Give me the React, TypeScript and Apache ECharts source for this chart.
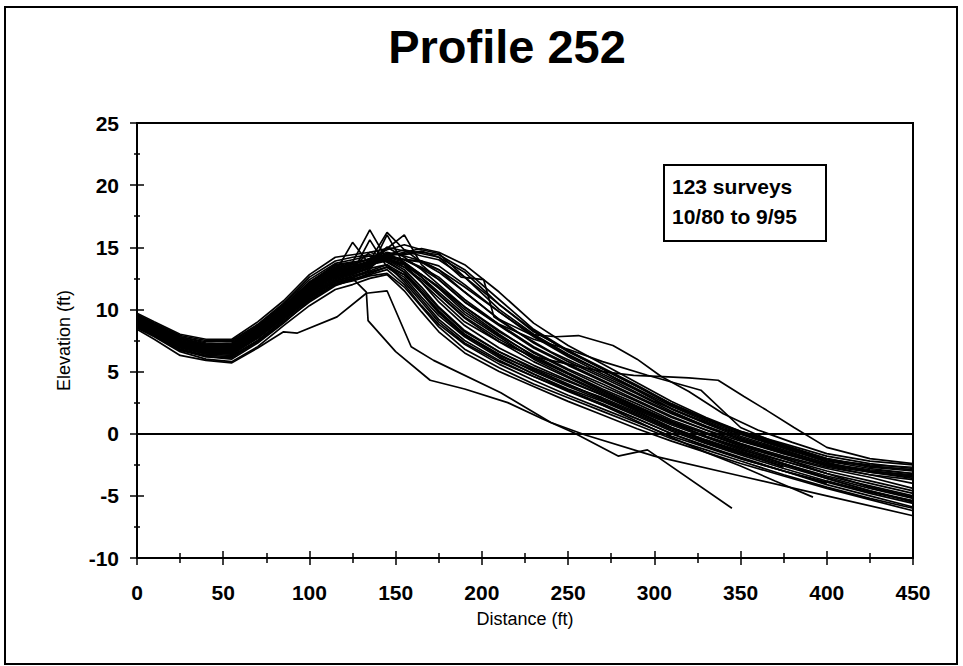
import React, { useEffect, useRef } from "react";
import * as echarts from "echarts";

// Shared distance stations (ft)
const distances = [0, 10, 25, 40, 55, 70, 85, 100, 115, 125, 135, 145, 155, 165, 175, 190, 210, 230, 250, 270, 290, 310, 330, 350, 375, 400, 425, 450];

// Elevation profiles (ft) on shared stations
const profiles: (number | null)[][] = [
  [9.2, 8.5, 7.5, 7.0, 7.0, 8.3, 9.9, 11.8, 13.0, 13.2, 13.5, 14.2, 13.8, 12.6, 11.4, 9.6, 7.8, 6.0, 4.6, 3.3, 2.1, 0.9, 0.0, -0.9, -1.9, -2.8, -3.5, -4.4],
  [8.8, 8.1, 7.0, 6.5, 6.6, 7.9, 9.5, 11.2, 12.5, 12.9, 13.4, 15.0, 14.2, 13.2, 12.0, 10.2, 8.3, 6.5, 5.1, 3.8, 2.6, 1.3, 0.3, -0.6, -1.6, -2.5, -3.0, -3.4],
  [9.5, 8.8, 7.8, 7.3, 7.2, 8.6, 10.2, 12.2, 13.6, 13.8, 14.0, 14.5, 14.4, 14.6, 14.4, 13.2, 10.8, 8.4, 6.7, 5.2, 3.8, 2.3, 1.1, 0.1, -1.0, -2.2, -2.6, -2.9],
  [8.6, 7.9, 6.7, 6.2, 6.1, 7.4, 9.0, 10.6, 11.9, 12.4, 12.8, 13.2, 12.0, 10.3, 8.8, 7.2, 5.6, 4.3, 3.1, 2.0, 0.9, -0.2, -1.1, -2.0, -3.0, -3.9, -4.8, -5.6],
  [9.0, 8.4, 7.3, 6.9, 6.8, 8.0, 9.6, 11.4, 12.8, 13.0, 13.9, 16.2, 14.8, 13.8, 13.0, 11.4, 9.2, 7.3, 5.8, 4.5, 3.2, 1.8, 0.6, -0.4, -1.5, -2.6, -3.3, -4.0],
  [9.3, 8.6, 7.6, 7.1, 7.1, 8.4, 10.1, 12.0, 13.3, 13.6, 14.1, 14.8, 15.2, 14.8, 14.5, 12.6, 10.0, 8.0, 6.4, 5.0, 3.5, 2.0, 0.9, -0.2, -1.3, -2.4, -2.9, -3.2],
  [8.9, 8.2, 7.1, 6.6, 6.4, 7.7, 9.3, 11.0, 12.3, 12.6, 13.0, 13.4, 12.6, 11.0, 9.5, 7.8, 6.1, 4.8, 3.6, 2.6, 1.4, 0.2, -0.8, -1.7, -2.8, -3.8, -4.7, -5.4],
  [9.6, 8.9, 7.9, 7.5, 7.5, 8.8, 10.5, 12.6, 13.9, 14.2, 14.4, 14.0, 13.6, 12.6, 11.2, 9.4, 7.6, 6.1, 4.8, 3.5, 2.2, 1.0, 0.0, -1.0, -2.0, -3.0, -3.8, -4.6],
  [8.7, 8.0, 6.9, 6.4, 6.3, 7.5, 9.2, 10.9, 12.1, 12.5, 13.2, 16.0, 13.6, 12.2, 10.6, 8.7, 6.9, 5.5, 4.3, 3.1, 1.8, 0.5, -0.5, -1.4, -2.4, -3.4, -4.2, -5.0],
  [9.1, 8.4, 7.4, 6.9, 6.9, 8.2, 9.8, 11.6, 12.9, 13.4, 14.6, 14.2, 14.0, 13.8, 13.2, 11.8, 9.8, 7.8, 6.2, 4.8, 3.5, 2.0, 0.8, -0.3, -1.4, -2.4, -3.0, -3.3],
  [9.4, 8.7, 7.7, 7.2, 7.3, 8.6, 10.3, 12.2, 13.5, 13.8, 16.4, 14.0, 13.2, 11.8, 10.2, 8.3, 6.6, 5.2, 4.0, 2.8, 1.6, 0.4, -0.6, -1.5, -2.5, -3.5, -4.4, -5.2],
  [8.5, 7.8, 6.6, 6.0, 5.8, 7.0, 8.7, 10.3, 11.6, 12.0, 12.5, 12.8, 11.5, 9.8, 8.2, 6.5, 5.0, 3.8, 2.6, 1.5, 0.4, -0.6, -1.5, -2.4, -3.4, -4.4, -5.3, -6.2],
  [9.0, 8.3, 7.2, 6.8, 6.7, 8.0, 9.7, 11.5, 12.7, 13.1, 13.6, 14.3, 14.6, 14.9, 14.6, 13.6, 11.4, 8.9, 7.1, 5.6, 4.1, 2.6, 1.3, 0.2, -0.9, -2.0, -2.7, -3.0],
  [9.2, 8.5, 7.5, 7.0, 6.9, 8.2, 9.9, 11.7, 13.0, 15.4, 13.6, 13.9, 13.0, 11.6, 10.1, 8.2, 6.6, 5.3, 4.2, 3.1, 1.9, 0.7, -0.3, -1.3, -2.2, -3.2, null, null],
  [8.8, 8.1, 7.0, 6.5, 6.5, 7.8, 9.4, 11.1, 12.4, 12.8, 13.3, 14.5, 13.8, 12.8, 11.8, 10.2, 8.2, 6.6, 5.2, 4.0, 2.7, 1.4, 0.3, -0.8, -2.0, -3.2, -4.3, -5.1],
  [9.5, 8.8, 7.8, 7.4, 7.4, 8.7, 10.4, 12.4, 13.7, 14.0, 14.3, 13.8, 13.0, 11.4, 9.8, 8.0, 6.4, 5.0, 3.8, 2.7, 1.5, 0.3, -0.7, -1.6, -2.6, -3.6, -4.6, -5.4],
  [8.9, 8.2, 7.1, 6.7, 6.6, 7.9, 9.5, 11.3, 12.6, 13.0, 15.6, 13.4, 12.8, 11.3, 9.7, 7.9, 6.3, 5.1, 3.9, 2.9, 1.7, 0.5, -0.5, -1.5, -2.7, null, null, null],
  [9.3, 8.6, 7.6, 7.1, 7.0, 8.4, 10.0, 11.9, 13.2, 13.5, 13.9, 14.4, 14.8, 14.5, 14.2, 13.0, 10.4, 8.2, 6.7, 5.3, 3.9, 2.4, 1.2, 0.1, -1.0, -2.1, -2.5, -2.7],
  [8.6, 7.9, 6.8, 6.3, 6.2, 7.5, 9.1, 10.8, 12.0, 12.4, 12.9, 13.4, 12.4, 10.8, 9.2, 7.5, 5.9, 4.6, 3.4, 2.3, 1.2, 0.0, -1.0, -2.0, -3.0, -4.1, -5.0, -5.9],
  [9.1, 8.4, 7.3, 6.8, 6.8, 8.1, 9.7, 11.5, 12.8, 13.2, 13.7, 14.1, 13.7, 12.8, 11.7, 9.8, 7.9, 6.3, 4.9, 3.6, 2.4, 1.1, 0.1, -0.8, -1.8, -2.7, -3.3, -3.7],
  [9.7, 9.0, 8.0, 7.6, 7.6, 9.0, 10.7, 12.8, 14.2, 14.4, 14.6, 14.9, 16.0, 13.6, 12.4, 10.6, 8.7, 6.9, 5.5, 4.2, 2.9, 1.6, 0.5, -0.5, -1.6, -2.6, -3.1, -3.5],
  [8.8, 8.1, 7.0, 6.6, 6.5, 7.7, 9.4, 11.2, 12.5, 12.9, 13.3, 13.6, 12.2, 10.6, 9.0, 7.3, 5.8, 4.6, 3.5, 2.4, 1.2, 0.0, -1.0, -1.9, -3.0, -4.0, null, null],
  [9.0, 8.3, 7.3, 6.8, 6.7, 8.0, 9.6, 11.4, 12.7, 13.0, 13.5, 14.2, 14.0, 13.9, 13.5, 12.0, 9.8, 7.9, 6.3, 5.0, 3.6, 2.2, 1.0, 0.0, -1.1, -2.3, -3.1, -3.6],
  [9.4, 8.7, 7.7, 7.2, 7.2, 8.5, 10.2, 12.1, 13.4, 13.7, 14.0, 14.2, 13.4, 12.4, 11.2, 9.3, 7.4, 5.8, 4.5, 3.2, 2.0, 0.8, -0.2, -1.1, -2.2, -3.2, -4.0, -4.8],
  [9.0, 8.2, 7.0, 6.6, 6.8, 8.1, 9.8, 11.7, 13.1, 13.4, 13.8, 14.0, 13.6, 12.8, 11.8, 10.0, 8.0, 6.2, 4.8, 3.4, 2.2, 0.9, -0.2, -1.2, -2.4, -3.6, -4.6, -5.5],
  [9.3, 8.5, 7.4, 7.0, 7.1, 8.5, 10.1, 12.0, 13.1, 13.3, 13.9, 15.0, 14.7, 14.3, 14.0, 12.6, 10.4, 8.3, 6.6, 5.2, 3.8, 2.4, 1.2, 0.2, -0.8, -1.8, -2.4, -2.8],
  [8.7, 8.0, 6.8, 6.2, 6.0, 7.3, 8.9, 10.7, 12.0, 12.3, 12.7, 12.9, 11.8, 10.2, 8.6, 6.8, 5.3, 4.0, 2.9, 1.8, 0.7, -0.4, -1.3, -2.2, -3.3, -4.3, -5.2, -6.0],
  [9.2, 8.5, 7.4, 6.9, 6.9, 8.2, 9.8, 11.6, 12.9, 13.3, 13.7, 14.3, 14.0, 13.4, 12.6, 10.8, 8.8, 7.0, 5.6, 4.3, 3.0, 1.7, 0.6, -0.4, -1.5, -2.5, -3.0, -3.4],
];

// Irregular surveys: [distance, elevation] pairs
const irregularSurveys: number[][][] = [
  [[0, 9.0], [10, 8.3], [25, 7.1], [40, 6.6], [55, 6.5], [70, 7.8], [85, 9.4], [100, 11.0], [115, 12.2], [125, 12.5], [133, 11.4], [134, 9.1], [150, 6.6], [170, 4.3], [190, 3.6], [215, 2.5], [235, 1.2], [253, 0.1], [279, -1.8], [296, -1.3], [345, -6.0]],
  [[0, 9.1], [10, 8.4], [25, 7.3], [40, 6.9], [55, 6.9], [70, 8.1], [85, 9.7], [100, 11.5], [115, 12.8], [125, 13.1], [135, 13.6], [145, 14.0], [155, 13.4], [165, 12.2], [175, 10.9], [190, 9.0], [210, 7.4], [230, 6.2], [250, 5.6], [270, 5.0], [288, 4.7], [305, 4.6], [320, 4.5], [337, 4.3], [352, 3.0], [365, 1.9], [381, 0.5], [400, -1.1], [425, -2.0], [450, -2.4]],
  [[0, 9.4], [10, 8.7], [25, 7.6], [40, 7.2], [55, 7.2], [70, 8.5], [85, 10.1], [100, 12.0], [115, 13.3], [125, 13.6], [135, 14.1], [145, 14.6], [155, 14.3], [165, 13.9], [175, 13.2], [190, 11.4], [210, 9.2], [228, 8.0], [243, 7.8], [256, 7.9], [276, 7.1], [290, 6.0], [304, 4.6], [320, 3.4], [340, 1.6], [360, 0.3], [380, -0.7], [400, -1.6], [425, -2.2], [450, -2.5]],
  [[0, 9.0], [10, 8.3], [25, 7.2], [40, 6.7], [55, 6.7], [70, 8.0], [85, 9.6], [100, 11.4], [115, 12.7], [125, 13.1], [135, 13.7], [145, 14.3], [155, 14.5], [165, 14.7], [175, 14.2], [188, 12.6], [201, 12.4], [207, 9.4], [220, 8.2], [240, 6.6], [260, 5.3], [280, 4.0], [300, 2.6], [320, 1.4], [340, 0.4], [360, -0.5], [380, -1.4], [400, -2.2], [425, -2.8], [450, -3.2]],
  [[0, 8.4], [10, 7.6], [25, 6.3], [40, 5.9], [55, 5.7], [70, 6.9], [85, 8.2], [93, 8.1], [116, 9.4], [133, 11.3], [145, 11.5], [159, 7.0], [172, 5.9], [211, 3.3], [240, 0.9], [260, -0.1], [300, -1.8], [350, -3.4], [400, -5.0], [450, -6.6]],
  [[0, 8.9], [10, 8.2], [25, 7.0], [40, 6.5], [55, 6.4], [70, 7.7], [85, 9.3], [100, 11.0], [115, 12.3], [125, 12.7], [135, 13.1], [145, 13.6], [155, 12.8], [165, 11.4], [175, 9.9], [190, 8.0], [210, 6.2], [230, 4.8], [250, 3.5], [270, 2.3], [290, 1.0], [310, -0.3], [330, -1.5], [350, -2.6], [370, -3.8], [392, -5.1]],
  [[0, 9.2], [10, 8.5], [25, 7.4], [40, 7.0], [55, 7.0], [70, 8.3], [85, 9.9], [100, 11.8], [115, 13.1], [125, 13.4], [135, 13.8], [145, 14.4], [155, 14.0], [165, 13.3], [175, 12.4], [190, 10.6], [210, 8.8], [230, 7.6], [250, 6.8], [270, 5.8], [296, 4.7], [327, 3.5], [350, 0.5], [375, -1.0], [400, -2.0], [425, -2.6], [450, -2.9]],
];

const yTicks = [-10, -5, 0, 5, 10, 15, 20, 25];
const xTicks = [0, 50, 100, 150, 200, 250, 300, 350, 400, 450];
const titleText = "Profile 252";
const noteLines = ["123 surveys", "10/80 to 9/95"];

const FONT = "'Liberation Sans', Arial, Helvetica, sans-serif";

export default function App() {
  const ref = useRef<HTMLDivElement>(null);
  useEffect(() => {
    if (!ref.current) return;
    document.body.style.margin = "0";
    const chart = echarts.init(ref.current, undefined, { renderer: "svg" });

    const lineStyle = { color: "#000", width: 1.7 };
    const series: any[] = [];
    profiles.forEach((p, i) => {
      const data: number[][] = [];
      p.forEach((v, j) => {
        if (v !== null) data.push([distances[j], v]);
      });
      series.push({
        type: "line",
        name: "s" + i,
        data,
        showSymbol: false,
        symbol: "none",
        lineStyle,
        silent: true,
        z: 3,
      });
    });
    irregularSurveys.forEach((s, i) => {
      series.push({
        type: "line",
        name: "irr" + i,
        data: s,
        showSymbol: false,
        symbol: "none",
        lineStyle,
        silent: true,
        z: 3,
      });
    });
    series[0].markLine = {
      silent: true,
      symbol: "none",
      label: { show: false },
      lineStyle: { color: "#000", width: 2, type: "solid" },
      data: [{ yAxis: 0 }],
    };

    const xMin = xTicks[0];
    const xMax = xTicks[xTicks.length - 1];
    const yMin = yTicks[0];
    const yMax = yTicks[yTicks.length - 1];

    const baseX = {
      type: "value",
      min: xMin,
      max: xMax,
      interval: 50,
      position: "bottom",
      splitLine: { show: false },
    };
    const baseY = {
      type: "value",
      min: yMin,
      max: yMax,
      interval: 5,
      position: "left",
      splitLine: { show: false },
    };

    chart.setOption({
      animation: false,
      backgroundColor: "#fff",
      grid: {
        left: 137,
        right: 50,
        top: 123,
        bottom: 108,
        show: true,
        borderColor: "#000",
        borderWidth: 2,
        backgroundColor: "transparent",
      },
      xAxis: [
        {
          ...baseX,
          name: "Distance (ft)",
          nameLocation: "middle",
          nameGap: 52,
          nameTextStyle: { color: "#000", fontFamily: FONT, fontSize: 18 },
          axisLine: { show: true, onZero: false, lineStyle: { color: "#000", width: 2 } },
          axisTick: { show: true, inside: false, length: 7, lineStyle: { color: "#000", width: 1.5 } },
          minorTick: { show: true, splitNumber: 2, length: 5, lineStyle: { color: "#000", width: 1.5 } },
          axisLabel: { color: "#000", fontFamily: FONT, fontSize: 21, fontWeight: "bold", margin: 24 },
        },
        {
          ...baseX,
          axisLine: { show: false, onZero: false },
          axisTick: { show: true, inside: true, length: 7, lineStyle: { color: "#000", width: 1.5 } },
          minorTick: { show: true, splitNumber: 2, length: 5, lineStyle: { color: "#000", width: 1.5 } },
          axisLabel: { show: false },
        },
      ],
      yAxis: [
        {
          ...baseY,
          name: "Elevation (ft)",
          nameLocation: "middle",
          nameGap: 64,
          nameTextStyle: { color: "#000", fontFamily: FONT, fontSize: 18 },
          axisLine: { show: true, onZero: false, lineStyle: { color: "#000", width: 2 } },
          axisTick: { show: true, inside: false, length: 7, lineStyle: { color: "#000", width: 1.5 } },
          minorTick: { show: true, splitNumber: 2, length: 3, lineStyle: { color: "#000", width: 1.5 } },
          axisLabel: { color: "#000", fontFamily: FONT, fontSize: 21, fontWeight: "bold", margin: 18 },
        },
        {
          ...baseY,
          axisLine: { show: false, onZero: false },
          axisTick: { show: true, inside: true, length: 7, lineStyle: { color: "#000", width: 1.5 } },
          minorTick: { show: true, splitNumber: 2, length: 3, lineStyle: { color: "#000", width: 1.5 } },
          axisLabel: { show: false },
        },
      ],
      series,
      graphic: [
        {
          type: "rect",
          shape: { x: 5, y: 7, width: 952, height: 657 },
          style: { fill: "none", stroke: "#000", lineWidth: 2 },
          silent: true,
          z: 0,
        },
        {
          type: "text",
          x: 507,
          y: 46,
          style: {
            text: titleText,
            fill: "#000",
            font: `bold 47px ${FONT}`,
            align: "center",
            verticalAlign: "middle",
          },
          z: 10,
        },
        {
          type: "rect",
          shape: { x: 664, y: 165, width: 162, height: 76 },
          style: { fill: "#fff", stroke: "#000", lineWidth: 2 },
          z: 10,
        },
        {
          type: "text",
          x: 672,
          y: 186,
          style: {
            text: noteLines[0],
            fill: "#000",
            font: `bold 21px ${FONT}`,
            align: "left",
            verticalAlign: "middle",
          },
          z: 11,
        },
        {
          type: "text",
          x: 672,
          y: 216,
          style: {
            text: noteLines[1],
            fill: "#000",
            font: `bold 21px ${FONT}`,
            align: "left",
            verticalAlign: "middle",
          },
          z: 11,
        },
      ],
    });
    return () => chart.dispose();
  }, []);
  return <div ref={ref} style={{ width: 963, height: 666 }} />;
}
